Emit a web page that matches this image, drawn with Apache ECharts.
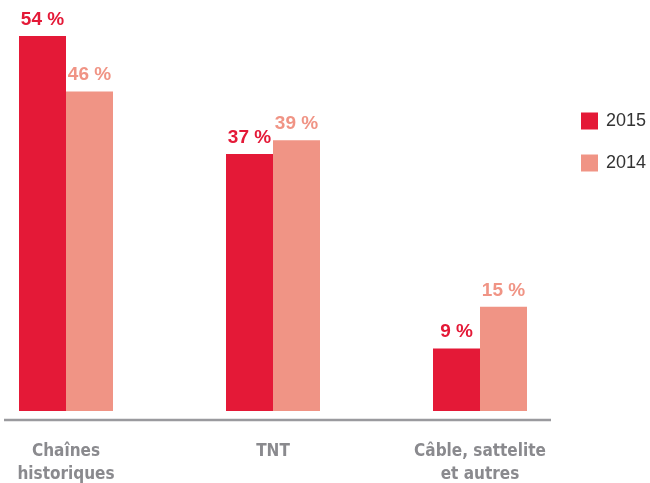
<!DOCTYPE html>
<html>
<head>
<meta charset="utf-8">
<script src="https://cdn.jsdelivr.net/npm/echarts@6/dist/echarts.min.js"></script>
<style>
  html, body { margin: 0; padding: 0; background: #ffffff; }
  #chart { width: 650px; height: 483px; }
</style>
</head>
<body>
<div id="chart"></div>
<script>
// Parts d'audience par mode de réception
var categories = ['Chaînes\nhistoriques', 'TNT', 'Câble, sattelite\net autres'];
var seriesNames = ['2015', '2014'];
var values2015 = [54, 37, 9];
var values2014 = [46, 39, 15];

var RED = '#e41937';
var SALMON = '#f09485';

var chart = echarts.init(document.getElementById('chart'), null, { renderer: 'canvas' });

function barSeries(name, data, color) {
  return {
    name: name,
    type: 'bar',
    data: data,
    barWidth: 47,
    barGap: '0%',
    itemStyle: { color: color },
    label: {
      show: true,
      position: 'top',
      distance: 7,
      formatter: '{c} %',
      color: color,
      fontFamily: '"Liberation Sans", Arial, sans-serif',
      fontWeight: 'bold',
      fontSize: 19
    }
  };
}

chart.setOption({
  animation: false,
  backgroundColor: '#ffffff',
  // category ticks sit on the grid edges (boundaryGap: false); fixed plot box
  grid: {
    left: 66, right: 170, top: 36, height: 375,
    containLabel: false,
    outerBoundsMode: 'none'
  },
  legend: {
    orient: 'vertical',
    left: 581,
    top: 112,
    padding: 0,
    itemWidth: 17,
    itemHeight: 17,
    itemGap: 24,
    icon: 'rect',
    data: seriesNames,
    textStyle: {
      color: '#333333',
      fontFamily: '"Liberation Sans", Arial, sans-serif',
      fontSize: 18,
      padding: [0, 0, 0, 3]
    }
  },
  xAxis: {
    type: 'category',
    data: categories,
    boundaryGap: false,
    axisLine: { show: false },
    axisTick: { show: false },
    splitLine: { show: false },
    axisLabel: {
      interval: 0,
      margin: 29,
      color: '#8a8a8e',
      fontFamily: '"DejaVu Sans Condensed", "Liberation Sans Narrow", sans-serif',
      fontWeight: 'bold',
      fontSize: 17,
      lineHeight: 23,
      align: 'center'
    }
  },
  yAxis: {
    type: 'value',
    min: 0,
    max: 54,
    show: false,
    splitLine: { show: false }
  },
  graphic: [{
    type: 'line',
    shape: { x1: 4, y1: 420, x2: 551, y2: 420 },
    style: { stroke: '#9a9a9e', lineWidth: 2.5 }
  }],
  series: [
    barSeries(seriesNames[0], values2015, RED),
    barSeries(seriesNames[1], values2014, SALMON)
  ]
});
</script>
</body>
</html>
